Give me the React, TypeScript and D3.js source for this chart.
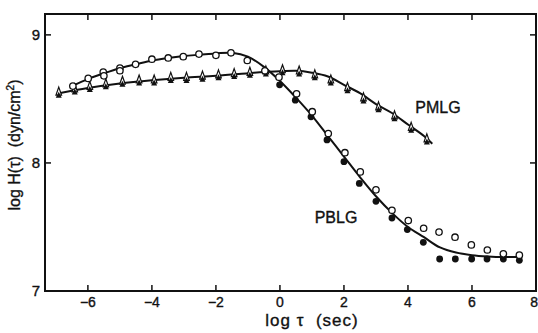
import React from "react";
import * as d3 from "d3";

// PBLG open circles
const pblgOpenX = [-6.47, -5.99, -5.52, -5.0, -4.51, -4.0, -3.49, -3.02, -2.53, -2.0, -1.53, -1.02, -0.47, -0.03, 0.52, 1.01, 1.51, 2.03, 2.51, 3.0, 3.5, 4.01, 4.49, 4.97, 5.47, 5.98, 6.48, 6.98, 7.48];
const pblgOpenY = [8.6, 8.66, 8.71, 8.74, 8.77, 8.81, 8.82, 8.83, 8.85, 8.84, 8.86, 8.8, 8.72, 8.67, 8.54, 8.4, 8.23, 8.08, 7.93, 7.79, 7.63, 7.55, 7.49, 7.46, 7.42, 7.36, 7.32, 7.29, 7.28];
// PBLG second set (filled circles, partly hidden)
const pblgFilledX = [-0.01, 0.48, 0.97, 1.47, 2.0, 2.48, 3.0, 3.5, 3.98, 4.48, 4.99, 5.48, 5.99, 6.47, 6.98, 7.48];
const pblgFilledY = [8.61, 8.49, 8.36, 8.18, 8.01, 7.84, 7.7, 7.57, 7.48, 7.38, 7.25, 7.25, 7.25, 7.25, 7.25, 7.24];
// extra open circles at low tau
const pblgExtraX = [-5.5, -5.0];
const pblgExtraY = [8.68, 8.72];
// PMLG triangles
const pmlgX = [-6.91, -6.41, -5.94, -5.44, -4.92, -4.4, -3.93, -3.41, -2.92, -2.42, -1.92, -1.43, -0.94, -0.44, 0.08, 0.6, 1.09, 1.59, 2.11, 2.61, 3.08, 3.58, 4.1, 4.59];
const pmlgY = [8.545, 8.57, 8.59, 8.61, 8.63, 8.64, 8.64, 8.66, 8.66, 8.67, 8.68, 8.69, 8.7, 8.71, 8.72, 8.71, 8.68, 8.64, 8.58, 8.5, 8.43, 8.36, 8.27, 8.18];
// fitted curves
const pblgCurveX = [-6.5, -6, -5.5, -5, -4.5, -4, -3.5, -3, -2.5, -2, -1.5, -1, -0.5, 0, 0.5, 1, 1.5, 2, 2.5, 3, 3.5, 4, 4.5, 5, 5.5, 6, 6.5, 7, 7.5];
const pblgCurveY = [8.6, 8.655, 8.7, 8.74, 8.77, 8.8, 8.82, 8.835, 8.845, 8.855, 8.86, 8.83, 8.75, 8.64, 8.51, 8.37, 8.21, 8.05, 7.89, 7.74, 7.61, 7.5, 7.42, 7.34, 7.3, 7.28, 7.27, 7.265, 7.265];
const pmlgCurveX = [-6.9, -6, -5, -4, -3, -2, -1, -0.5, 0, 0.5, 1, 1.5, 2, 2.5, 3, 3.5, 4, 4.5, 4.76];
const pmlgCurveY = [8.545, 8.585, 8.62, 8.645, 8.665, 8.68, 8.7, 8.71, 8.715, 8.72, 8.705, 8.675, 8.61, 8.545, 8.46, 8.39, 8.3, 8.21, 8.15];

const xTicks = [-6, -4, -2, 0, 2, 4, 6, 8];
const yTicks = [7, 8, 9];

const W = 538, H = 333;
const L = 45, R = 536, T = 14, B = 291;

export default function App() {
  const x = d3.scaleLinear().domain([-7.34, 8]).range([L, R]);
  const y = d3.scaleLinear().domain([7, 9.163]).range([B, T]);
  const line = d3.line<[number, number]>().x(d => x(d[0])).y(d => y(d[1])).curve(d3.curveCatmullRom.alpha(0.5));
  const pblgCurve = line(pblgCurveX.map((v, i) => [v, pblgCurveY[i]]) as [number, number][]);
  const pmlgCurve = line(pmlgCurveX.map((v, i) => [v, pmlgCurveY[i]]) as [number, number][]);
  const font = "'Liberation Sans', Arial, sans-serif";
  const tick = 6;
  const txt = { fontFamily: font, fill: "#111", stroke: "#111", strokeWidth: 0.35 } as const;
  return (
    <svg width={W} height={H} style={{ position: "absolute", left: 0, top: 0, background: "#fff" }}>
      <rect x={L} y={T} width={R - L} height={B - T} fill="none" stroke="#111" strokeWidth={2} />
      {xTicks.filter(t => t < 8).map(t => (
        <g key={"xt" + t}>
          <line x1={x(t)} x2={x(t)} y1={B} y2={B - tick} stroke="#111" strokeWidth={1.5} />
          <line x1={x(t)} x2={x(t)} y1={T} y2={T + tick} stroke="#111" strokeWidth={1.5} />
        </g>
      ))}
      {xTicks.map(t => (
        <text key={"xl" + t} x={t === 8 ? 538 : x(t)} y={306.5} textAnchor={t === 8 ? "end" : "middle"} fontSize={14} {...txt}>
          {t < 0 ? "\u2212" + Math.abs(t) : String(t)}
        </text>
      ))}
      {yTicks.filter(t => t > 7).map(t => (
        <g key={"yt" + t}>
          <line x1={L} x2={L + tick} y1={y(t)} y2={y(t)} stroke="#111" strokeWidth={1.5} />
          <line x1={R} x2={R - tick} y1={y(t)} y2={y(t)} stroke="#111" strokeWidth={1.5} />
        </g>
      ))}
      {yTicks.map(t => (
        <text key={"yl" + t} x={40} y={y(t) + 5} textAnchor="end" fontSize={15} {...txt}>{t}</text>
      ))}
      <text x={312} y={326} textAnchor="middle" fontSize={17} letterSpacing={1} {...txt} xmlSpace="preserve">log τ  (sec)</text>
      <text transform={`translate(20,${145}) rotate(-90)`} textAnchor="middle" fontSize={16} {...txt} xmlSpace="preserve">log H(τ)  (dyn/cm<tspan dy={-6} fontSize={10}>2</tspan><tspan dy={6}>)</tspan></text>
      <path d={pblgCurve || ""} fill="none" stroke="#111" strokeWidth={2} />
      <path d={pmlgCurve || ""} fill="none" stroke="#111" strokeWidth={2} />
      {pmlgX.map((v, i) => {
        const cx = x(v), cy = y(pmlgY[i]);
        return (
          <g key={"tr" + i} transform={`translate(${cx},${cy})`}>
            <path d="M0,-6 L2.8,2 L-2.8,2 Z" fill="#fff" stroke="#111" strokeWidth={1.2} />
            <path d="M0,-1.5 L3,4.5 L-3,4.5 Z" fill="#111" />
          </g>
        );
      })}
      {pblgFilledX.map((v, i) => (
        <circle key={"fc" + i} cx={x(v)} cy={y(pblgFilledY[i])} r={3.4} fill="#111" />
      ))}
      {pblgOpenX.map((v, i) => (
        <circle key={"oc" + i} cx={x(v)} cy={y(pblgOpenY[i])} r={3.2} fill="#fff" stroke="#111" strokeWidth={1.3} />
      ))}
      {pblgExtraX.map((v, i) => (
        <circle key={"ec" + i} cx={x(v)} cy={y(pblgExtraY[i])} r={3.2} fill="#fff" stroke="#111" strokeWidth={1.3} />
      ))}
      <text x={438} y={113} textAnchor="middle" fontSize={16} {...txt}>PMLG</text>
      <text x={336} y={223} textAnchor="middle" fontSize={16} {...txt}>PBLG</text>
    </svg>
  );
}
